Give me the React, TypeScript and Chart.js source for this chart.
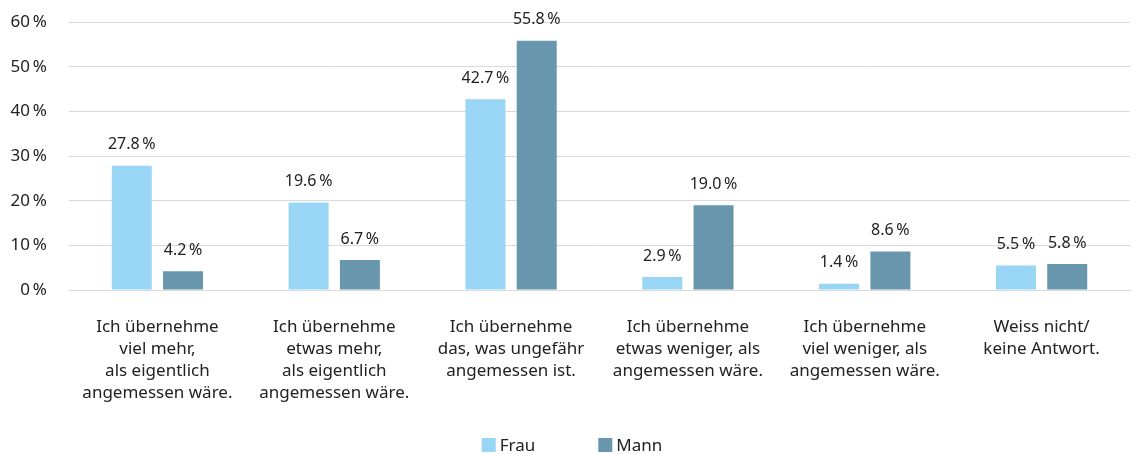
import React, { useEffect, useRef } from "react";
import { Chart, registerables } from "chart.js";

Chart.register(...registerables);

const categories: string[][] = [
  ["Ich übernehme", "viel mehr,", "als eigentlich", "angemessen wäre."],
  ["Ich übernehme", "etwas mehr,", "als eigentlich", "angemessen wäre."],
  ["Ich übernehme", "das, was ungefähr", "angemessen ist."],
  ["Ich übernehme", "etwas weniger, als", "angemessen wäre."],
  ["Ich übernehme", "viel weniger, als", "angemessen wäre."],
  ["Weiss nicht/", "keine Antwort."],
];
const frauValues = [27.8, 19.6, 42.7, 2.9, 1.4, 5.5];
const mannValues = [4.2, 6.7, 55.8, 19.0, 8.6, 5.8];
const seriesNames = ["Frau", "Mann"];
const seriesColors = ["#99d5f5", "#6897ad"];
const yTicks = [0, 10, 20, 30, 40, 50, 60];

const FONT = "'Noto Sans', 'DejaVu Sans', sans-serif";
const TEXT = "#222222";

const valueLabels = {
  id: "valueLabels",
  afterDatasetsDraw(chart: any) {
    const ctx = chart.ctx;
    ctx.save();
    ctx.font = `16px ${FONT}`;
    ctx.fillStyle = TEXT;
    ctx.textAlign = "center";
    ctx.textBaseline = "middle";
    chart.data.datasets.forEach((ds: any, i: number) => {
      const meta = chart.getDatasetMeta(i);
      meta.data.forEach((bar: any, j: number) => {
        const v = ds.data[j] as number;
        ctx.fillText(v.toFixed(1) + "\u202F%", bar.x, bar.y - 21);
      });
    });
    ctx.restore();
  },
};

// Legend drawn centered at the bottom with a wide gap between items
const bottomLegend = {
  id: "bottomLegend",
  afterDraw(chart: any) {
    const ctx = chart.ctx;
    ctx.save();
    ctx.font = `17px ${FONT}`;
    ctx.textBaseline = "middle";
    ctx.textAlign = "left";
    const box = 14;
    const gapText = 4;
    const gapItems = 63;
    const items = chart.data.datasets.map((ds: any) => ({
      text: ds.label as string,
      color: ds.backgroundColor as string,
      w: box + gapText + ctx.measureText(ds.label).width,
    }));
    const total = items.reduce((s: number, it: any) => s + it.w, 0) + gapItems * (items.length - 1);
    let x = (chart.width - total) / 2;
    const cy = chart.height - 9;
    items.forEach((it: any) => {
      ctx.fillStyle = it.color;
      ctx.fillRect(x, cy - box / 2, box, box);
      ctx.fillStyle = TEXT;
      ctx.fillText(it.text, x + box + gapText, cy + 1);
      x += it.w + gapItems;
    });
    ctx.restore();
  },
};

export default function App() {
  const ref = useRef<HTMLCanvasElement>(null);
  useEffect(() => {
    if (!ref.current) return;
    const chart = new Chart(ref.current, {
      type: "bar",
      data: {
        labels: categories,
        datasets: seriesNames.map((name, i) => ({
          label: name,
          data: i === 0 ? frauValues : mannValues,
          backgroundColor: seriesColors[i],
          barPercentage: 0.78,
          categoryPercentage: 0.58,
        })),
      },
      options: {
        animation: false,
        responsive: true,
        maintainAspectRatio: false,
        layout: { padding: { top: 22, right: 14, left: 0, bottom: 50 } },
        plugins: {
          tooltip: { enabled: false },
          legend: { display: false },
        },
        scales: {
          x: {
            afterFit: (scale: any) => {
              scale.height = 114;
            },
            grid: { display: false, drawTicks: false },
            border: { display: true, color: "#d9d9d9" },
            ticks: {
              color: TEXT,
              padding: 26,
              maxRotation: 0,
              autoSkip: false,
              font: { family: FONT, size: 17, lineHeight: 1.294 },
            },
          },
          y: {
            min: 0,
            max: 60,
            afterFit: (scale: any) => {
              scale.width = 69;
              scale.paddingTop = 10;
              scale.paddingBottom = 10;
            },
            afterBuildTicks: (scale: any) => {
              scale.ticks = yTicks.map((v) => ({ value: v }));
            },
            grid: { color: "#d9d9d9", drawTicks: false },
            border: { display: false },
            ticks: {
              color: TEXT,
              padding: 22,
              font: { family: FONT, size: 17 },
              callback: (v: any) => v + "\u202F%",
            },
          },
        },
      },
      plugins: [valueLabels, bottomLegend],
    });
    return () => chart.destroy();
  }, []);
  return (
    <div style={{ position: "fixed", left: 0, top: 0, width: 1144, height: 454, background: "#fff" }}>
      <canvas ref={ref} />
    </div>
  );
}
